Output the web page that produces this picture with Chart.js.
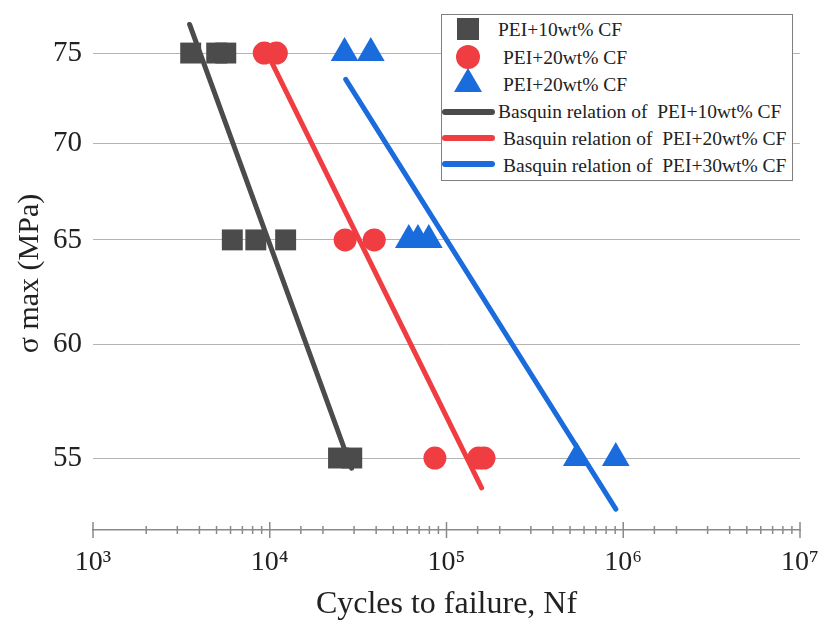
<!DOCTYPE html>
<html lang="en">
<head>
    <meta charset="UTF-8">
    <title>S-N curves PEI/CF</title>
    <script src="https://cdn.jsdelivr.net/npm/chart.js@4/dist/chart.umd.min.js"></script>
    <style>
        html, body {
            margin: 0;
            padding: 0;
            background: #ffffff;
        }

        .wrap {
            position: relative;
            width: 821px;
            height: 621px;
        }

        #chart {
            display: block;
        }

        .legend {
            position: absolute;
            left: 441px;
            top: 14px;
            width: 352px;
            height: 167px;
            box-sizing: border-box;
            border: 1px solid #808080;
            background: #ffffff;
            font-family: 'Liberation Serif', serif;
            font-size: 19.5px;
            color: #222;
        }

        .legend .txt {
            position: absolute;
            line-height: 22px;
            white-space: pre;
        }

        .legend .mk {
            position: absolute;
        }
    </style>
</head>
<body>
<div class="wrap">
    <canvas id="chart" width="821" height="621"></canvas>
    <div class="legend" id="legend"></div>
</div>
<script>
    // test points (cycles to failure, stress level)
    var cf10N = [3570, 5010, 5640, 6140, 8340, 12300, 24500, 29100];
    var cf10S = [75, 75, 75, 65, 65, 65, 55, 55];
    var cf20N = [9310, 10900, 26700, 39000, 86000, 152000, 163000];
    var cf20S = [75, 75, 65, 65, 55, 55, 55];
    var cf30N = [26500, 37300, 61200, 68900, 79400, 546000, 907000];
    var cf30S = [75, 75, 65, 65, 65, 55, 55];

    // Basquin relation end points
    var fit10N = [3520, 29000];
    var fit10S = [76.66, 54.57];
    var fit20N = [10000, 158000];
    var fit20S = [74.7, 53.76];
    var fit30N = [26900, 908000];
    var fit30S = [73.5, 52.89];

    var yTicks = [55, 60, 65, 70, 75];
    var supDigits = {3: '\u00B3', 4: '\u2074', 5: '\u2075', 6: '\u2076', 7: '\u2077'};

    var pointLabels = ['PEI+10wt% CF', 'PEI+20wt% CF', 'PEI+20wt% CF'];
    var lineLabels = ['Basquin relation of  PEI+10wt% CF', 'Basquin relation of  PEI+20wt% CF', 'Basquin relation of  PEI+30wt% CF'];

    var GREY = '#4b4b4b';
    var RED = '#ef3d42';
    var BLUE = '#1a6cdd';

    function pairs(xs, ys) {
        var out = [];
        for (var i = 0; i < xs.length; i++) {
            out.push({x: xs[i], y: ys[i]});
        }
        return out;
    }

    function isPow10(v) {
        var e = Math.log10(v);
        return Math.abs(e - Math.round(e)) < 1e-9;
    }

    function noPad(scale) {
        scale.paddingTop = 0;
        scale.paddingBottom = 0;
        scale.paddingLeft = 0;
        scale.paddingRight = 0;
    }

    // tick marks crossing the x axis line
    var axisTicks = {
        id: 'axisTicks',
        afterDraw: function (chart) {
            var xs = chart.scales.x;
            var ctx = chart.ctx;
            var y0 = chart.chartArea.bottom;
            ctx.save();
            ctx.strokeStyle = '#8a8a8a';
            ctx.lineWidth = 1.5;
            xs.ticks.forEach(function (t) {
                var x = xs.getPixelForValue(t.value);
                var h = isPow10(t.value) ? 8 : 4;
                ctx.beginPath();
                ctx.moveTo(x, y0 - h);
                ctx.lineTo(x, y0 + h);
                ctx.stroke();
            });
            ctx.restore();
        }
    };

    Chart.defaults.font.family = "'Liberation Serif', serif";
    Chart.defaults.color = '#222';

    function scatterSet(label, xs, ys, color, style, radius) {
        return {
            type: 'scatter',
            label: label,
            data: pairs(xs, ys),
            backgroundColor: color,
            borderColor: color,
            borderWidth: 0,
            pointStyle: style,
            pointRadius: radius,
            pointHoverRadius: radius,
            order: 2
        };
    }

    function lineSet(label, xs, ys, color) {
        return {
            type: 'line',
            label: label,
            data: pairs(xs, ys),
            borderColor: color,
            borderWidth: 5,
            borderCapStyle: 'round',
            pointRadius: 0,
            fill: false,
            tension: 0,
            order: 1
        };
    }

    var chart = new Chart(document.getElementById('chart'), {
        type: 'scatter',
        data: {
            datasets: [
                scatterSet(pointLabels[0], cf10N, cf10S, GREY, 'rect', 14.8),
                scatterSet(pointLabels[1], cf20N, cf20S, RED, 'circle', 11.5),
                scatterSet(pointLabels[2], cf30N, cf30S, BLUE, 'triangle', 16),
                lineSet(lineLabels[0], fit10N, fit10S, GREY),
                lineSet(lineLabels[1], fit20N, fit20S, RED),
                lineSet(lineLabels[2], fit30N, fit30S, BLUE)
            ]
        },
        options: {
            responsive: false,
            animation: false,
            layout: {
                autoPadding: false,
                padding: {left: 0, right: 21, top: 17, bottom: 0}
            },
            plugins: {
                legend: {display: false},
                tooltip: {enabled: false}
            },
            scales: {
                x: {
                    type: 'logarithmic',
                    min: 1000,
                    max: 10000000,
                    afterFit: function (scale) {
                        scale.height = 91;
                        noPad(scale);
                    },
                    grid: {display: false, drawTicks: false},
                    border: {display: true, color: '#8a8a8a', width: 1.5},
                    ticks: {
                        autoSkip: false,
                        maxRotation: 0,
                        minRotation: 0,
                        padding: 16,
                        font: {size: 28},
                        callback: function (value) {
                            if (!isPow10(value)) {
                                return '';
                            }
                            return '10' + supDigits[Math.round(Math.log10(value))];
                        }
                    },
                    title: {
                        display: true,
                        text: 'Cycles to failure, Nf',
                        font: {size: 32, lineHeight: 1},
                        padding: {top: 0, bottom: 0}
                    }
                },
                y: {
                    type: 'logarithmic',
                    min: 52.05,
                    max: 77.1,
                    afterFit: function (scale) {
                        scale.width = 93;
                        noPad(scale);
                    },
                    afterBuildTicks: function (scale) {
                        scale.ticks = yTicks.map(function (v) {
                            return {value: v};
                        });
                    },
                    grid: {color: '#b5b5b5', lineWidth: 1, drawTicks: false},
                    border: {display: false},
                    ticks: {
                        padding: 11,
                        font: {size: 29},
                        callback: function (value) {
                            return String(value);
                        }
                    },
                    title: {
                        display: true,
                        text: '\u03C3 max (MPa)',
                        font: {size: 30, lineHeight: 1},
                        padding: {top: 15, bottom: 0}
                    }
                }
            }
        },
        plugins: [axisTicks]
    });

    // legend box, drawn as html on top of the chart
    function buildLegend() {
        var box = document.getElementById('legend');
        var ox = 442, oy = 15; // inner origin of the legend box
        var rows = [
            {kind: 'rect', color: GREY, text: pointLabels[0], cy: 29, tx: 498, ty: 30},
            {kind: 'circle', color: RED, text: pointLabels[1], cy: 57, tx: 503, ty: 57.5},
            {kind: 'triangle', color: BLUE, text: pointLabels[2], cy: 80, tx: 503, ty: 84.5},
            {kind: 'line', color: GREY, text: lineLabels[0], cy: 112, tx: 498, ty: 112},
            {kind: 'line', color: RED, text: lineLabels[1], cy: 138, tx: 503, ty: 139},
            {kind: 'line', color: BLUE, text: lineLabels[2], cy: 164, tx: 503, ty: 165.5}
        ];
        rows.forEach(function (r) {
            var mk = document.createElement('DIV');
            mk.className = 'mk';
            if (r.kind === 'rect') {
                mk.style.cssText = 'left:' + (457 - ox) + 'px;top:' + (r.cy - 11 - oy) + 'px;width:22px;height:22px;background:' + r.color;
            } else if (r.kind === 'circle') {
                mk.style.cssText = 'left:' + (456 - ox) + 'px;top:' + (r.cy - 12 - oy) + 'px;width:24px;height:24px;border-radius:50%;background:' + r.color;
            } else if (r.kind === 'triangle') {
                mk.style.cssText = 'left:' + (454 - ox) + 'px;top:' + (r.cy - 12 - oy) + 'px;width:0;height:0;border-left:14px solid transparent;border-right:14px solid transparent;border-bottom:24px solid ' + r.color;
            } else {
                mk.style.cssText = 'left:' + (442 - ox) + 'px;top:' + (r.cy - 3 - oy) + 'px;width:53px;height:6px;border-radius:3px;background:' + r.color;
            }
            box.appendChild(mk);
            var t = document.createElement('DIV');
            t.className = 'txt';
            t.textContent = r.text;
            t.style.left = (r.tx - ox) + 'px';
            t.style.top = (r.ty - 11 - oy) + 'px';
            box.appendChild(t);
        });
    }
    buildLegend();
</script>
</body>
</html>
